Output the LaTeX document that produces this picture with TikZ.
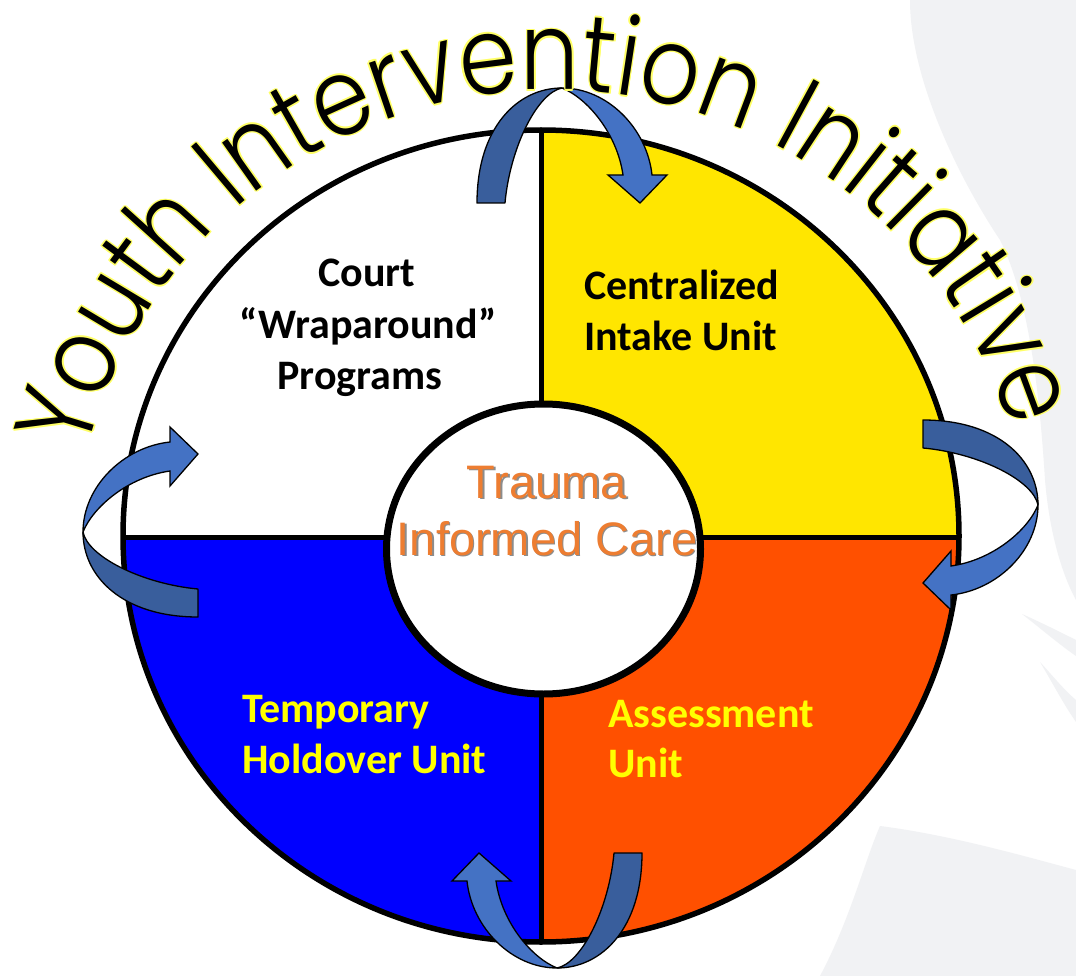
\documentclass[tikz,border=0pt]{standalone}
\usepackage{fontspec}
\setmainfont{Carlito}
\IfFontExistsTF{Poppins Light}{\newfontfamily\titlefont{Poppins Light}[FakeStretch=0.86]}{\newfontfamily\titlefont{Poppins}[FakeStretch=0.86]}
\newfontfamily\arialfont{Liberation Sans}
\usetikzlibrary{decorations.text}
\definecolor{qyellow}{HTML}{FFE600}
\definecolor{qorange}{HTML}{FF5000}
\definecolor{qblue}{HTML}{0000FF}
\definecolor{txtyellow}{HTML}{FFFF00}
\definecolor{tcorange}{HTML}{ED7D31}
\definecolor{tailblue}{HTML}{395E9C}
\definecolor{headblue}{HTML}{4472C4}
\definecolor{halo}{HTML}{FFFF66}
\definecolor{bggrey}{HTML}{F1F2F4}
\tikzset{
  lbl/.style={font=\fontsize{42}{50}\selectfont\bfseries, inner sep=0pt},
  tic/.style={font=\arialfont\fontsize{47}{56}\selectfont, inner sep=0pt, anchor=base},
  tailband/.style={fill=tailblue, draw=black, line width=1.3pt, line join=round},
  headband/.style={fill=headblue, draw=black, line width=1.3pt, line join=miter},
  divider/.style={line width=5pt}
}
\begin{document}
\begin{tikzpicture}[x=1pt,y=1pt]
\useasboundingbox (0,0) rectangle (1076,-976);
\fill[white] (0,0) rectangle (1076,-976);
% faint background swooshes
\fill[bggrey] (910,0) .. controls (910,-80) and (960,-180) .. (1000,-240)
  .. controls (1030,-300) and (1040,-400) .. (1045,-480)
  .. controls (1050,-540) and (1065,-580) .. (1076,-600) -- (1076,0) -- cycle;
\fill[bggrey] (1022,-614) .. controls (1040,-622) and (1060,-632) .. (1076,-640)
  -- (1076,-656) .. controls (1060,-645) and (1040,-628) .. cycle;
\fill[bggrey] (1040,-662) .. controls (1052,-675) and (1064,-690) .. (1076,-700)
  -- (1076,-722) .. controls (1064,-705) and (1052,-682) .. cycle;
\fill[bggrey] (880,-826) .. controls (950,-835) and (1020,-855) .. (1076,-870)
  -- (1076,-976) -- (820,-976) .. controls (850,-920) and (865,-860) .. cycle;

% quadrants
\begin{scope}
  \clip (541,-536) ellipse [x radius=418, y radius=406];
  \fill[qyellow] (541,-536) rectangle (1000,-100);
  \fill[qorange] (541,-536) rectangle (1000,-1000);
  \fill[qblue] (541,-536) rectangle (100,-1000);
\end{scope}
\coordinate (vtop) at (541,-130);
\coordinate (vbot) at (541,-942);
\coordinate (hleft) at (123,-537);
\coordinate (hright) at (959,-537);
\draw[divider] (vtop) -- (vbot);
\draw[divider] (hleft) -- (hright);
\draw[line width=5.5pt] (541,-536) ellipse [x radius=418, y radius=406];
\filldraw[fill=white, line width=7pt] (543.5,-549) ellipse [x radius=157, y radius=145];

% quadrant labels
\node[lbl, anchor=base] (court1) at (367,-287) {Court};
\node[lbl, anchor=base] (court2) at (368,-338) {“Wraparound”};
\node[lbl, anchor=base] (court3) at (360,-389) {Programs};
\node[lbl, anchor=base west] (cen1) at (584,-299) {Centralized};
\node[lbl, anchor=base west] (cen2) at (584,-350) {Intake Unit};
\node[lbl, anchor=base west, text=txtyellow] (tem1) at (242,-722) {Temporary};
\node[lbl, anchor=base west, text=txtyellow] (tem2) at (242,-773) {Holdover Unit};
\node[lbl, anchor=base west, text=txtyellow] (ass1) at (608,-727) {Assessment};
\node[lbl, anchor=base west, text=txtyellow] (ass2) at (608,-777) {Unit};

% Trauma Informed Care with shadow
\node[tic, text=black!45] (tr1s) at (548.6,-499.6) {Trauma};
\node[tic, text=black!45] (tr2s) at (548.6,-556.6) {Informed Care};
\node[tic, text=tcorange] (tr1) at (547,-498) {Trauma};
\node[tic, text=tcorange] (tr2) at (547,-555) {Informed Care};

% curved block arrows
\foreach \ax/\ay/\rot in {562/-88/0, 1038/-505/-90, 557/-968/180, 83/-532/90}{
  \begin{scope}[shift={(\ax,\ay)}, rotate=\rot]
    \path[tailband] (-85,-115) .. controls (-85,-40) and (-45,0) .. (0,0)
      .. controls (-25,-5) and (-52,-60) .. (-57,-115) -- cycle;
    \path[headband] (0,0) .. controls (45,0) and (85,-40) .. (90,-87)
      -- (105,-87) -- (78,-115) -- (46,-87) -- (61,-87)
      .. controls (55,-45) and (25,-10) .. (0,0) -- cycle;
  \end{scope}
}

% title along an arc, with yellow halo
\foreach \hx/\hy in {1.5/0,-1.5/0,0/1.5,0/-1.5,1.1/1.1,-1.1/1.1,1.1/-1.1,-1.1/-1.1}{
  \path[shift={(\hx,\hy)}, decorate, decoration={text along path,
      text={|\titlefont\fontsize{108}{108}\selectfont|Youth Intervention Initiative},
      text color=halo, text align=fit to path}]
    (552,-570) ++(166:480) arc[start angle=166, end angle=17, radius=480];
}
\path[decorate, decoration={text along path,
    text={|\titlefont\fontsize{108}{108}\selectfont|Youth Intervention Initiative},
    text color=black, text align=fit to path}]
  (552,-570) ++(166:480) arc[start angle=166, end angle=17, radius=480];
\end{tikzpicture}
\end{document}
